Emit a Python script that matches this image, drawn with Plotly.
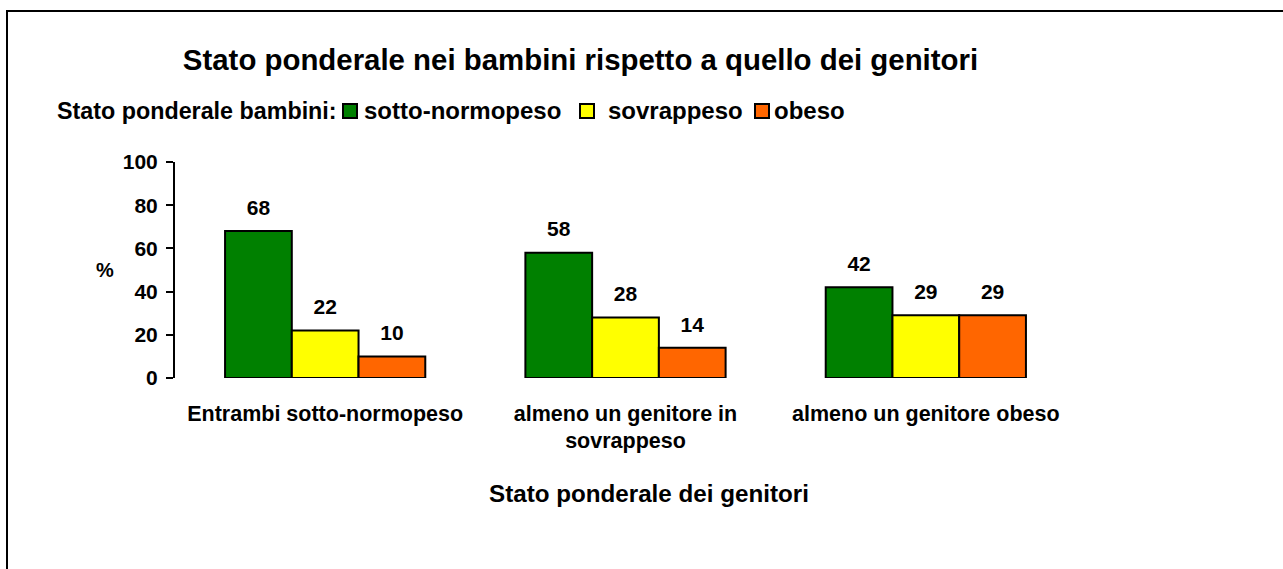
import plotly.graph_objects as go

categories = ["Entrambi sotto-normopeso", "almeno un genitore in<br>sovrappeso", "almeno un genitore obeso"]
series_names = ["sotto-normopeso", "sovrappeso", "obeso"]
sotto_normopeso = [68, 58, 42]
sovrappeso = [22, 28, 29]
obeso = [10, 14, 29]
colors = ["#008000", "#FFFF00", "#FF6600"]
y_ticks = [0, 20, 40, 60, 80, 100]

FONT = "Liberation Sans, Arial, sans-serif"
W, H = 1283, 569
L, R, T, B = 175, W - 1076, 162, H - 378
pw, ph = W - L - R, H - T - B


def px(xp):
    return (xp - L) / pw


def py(yp):
    return (H - B - yp) / ph


fig = go.Figure()
all_vals = [sotto_normopeso, sovrappeso, obeso]
for i, (name, vals, col) in enumerate(zip(series_names, all_vals, colors)):
    fig.add_trace(go.Bar(
        x=categories, y=vals, name=name, offsetgroup=str(i),
        marker=dict(color=col, line=dict(color="black", width=2)),
        showlegend=False, hoverinfo="x+y+name",
    ))
# value labels, grouped to sit over each bar
for i, (name, vals) in enumerate(zip(series_names, all_vals)):
    fig.add_trace(go.Scatter(
        x=categories, y=vals, name=name, offsetgroup=str(i),
        mode="markers+text", text=[str(v) for v in vals], textposition="top center",
        marker=dict(size=16, color="rgba(0,0,0,0)", line=dict(width=0)),
        textfont=dict(family=FONT, size=21, color="black", weight="bold"),
        cliponaxis=False, showlegend=False, hoverinfo="skip",
    ))

# legend drawn manually (boxes + labels)
legend_items = [("sotto-normopeso", 343, 362), ("sovrappeso", 580, 606), ("obeso", 755, 772)]
shapes = []
annotations = []
for (lab, bx, tx), col in zip(legend_items, colors):
    shapes.append(dict(type="rect", xref="paper", yref="paper",
                       x0=px(bx), x1=px(bx + 14), y0=py(118), y1=py(104),
                       line=dict(color="black", width=2), fillcolor=col))
    annotations.append(dict(text=lab, x=px(tx), y=py(111), xref="paper", yref="paper",
                            xanchor="left", yanchor="middle", showarrow=False,
                            font=dict(family=FONT, size=24, weight="bold")))
annotations.append(dict(text="Stato ponderale bambini:", x=px(55), y=py(111), xref="paper", yref="paper",
                        xanchor="left", yanchor="middle", showarrow=False,
                        font=dict(family=FONT, size=23.3, weight="bold")))
annotations.append(dict(text="%", x=px(105), y=py(270), xref="paper", yref="paper",
                        xanchor="center", yanchor="middle",
                        showarrow=False, font=dict(family=FONT, size=20, weight="bold")))
annotations.append(dict(text="Stato ponderale dei genitori", x=px(649), y=py(493), xref="paper", yref="paper",
                        xanchor="center", yanchor="middle",
                        showarrow=False, font=dict(family=FONT, size=24.2, weight="bold")))

shapes.append(dict(type="rect", xref="paper", yref="paper",
                   x0=px(7), x1=px(1300), y0=py(600), y1=py(11),
                   line=dict(color="black", width=2), fillcolor="rgba(0,0,0,0)", layer="below"))

fig.update_layout(
    width=W, height=H,
    margin=dict(l=L, r=R, t=T, b=B, pad=0),
    paper_bgcolor="white", plot_bgcolor="white",
    font=dict(family=FONT, size=21, color="black"),
    barmode="group", bargap=1/3, bargroupgap=0,
    scattermode="group", scattergap=1/3,
    title=dict(text="Stato ponderale nei bambini rispetto a quello dei genitori",
               x=580.5 / W, xanchor="center", xref="container",
               y=1 - 60 / H, yanchor="middle", yref="container",
               font=dict(family=FONT, size=29.4, color="black", weight="bold")),
    showlegend=False,
    xaxis=dict(showline=False, ticks="", showgrid=False, zeroline=False,
               tickfont=dict(family=FONT, size=21.5, weight="bold"), ticklabelstandoff=20),
    yaxis=dict(range=[0, 100], tickvals=y_ticks, showline=True, linecolor="black", linewidth=2,
               ticks="outside", ticklen=7, tickwidth=2, tickcolor="black",
               showgrid=False, zeroline=False, ticklabelstandoff=4,
               tickfont=dict(family=FONT, size=21, weight="bold")),
    annotations=annotations,
    shapes=shapes,
)

fig.write_html("out.html", post_script="document.body.style.margin='0';",
               config={"displayModeBar": False})
